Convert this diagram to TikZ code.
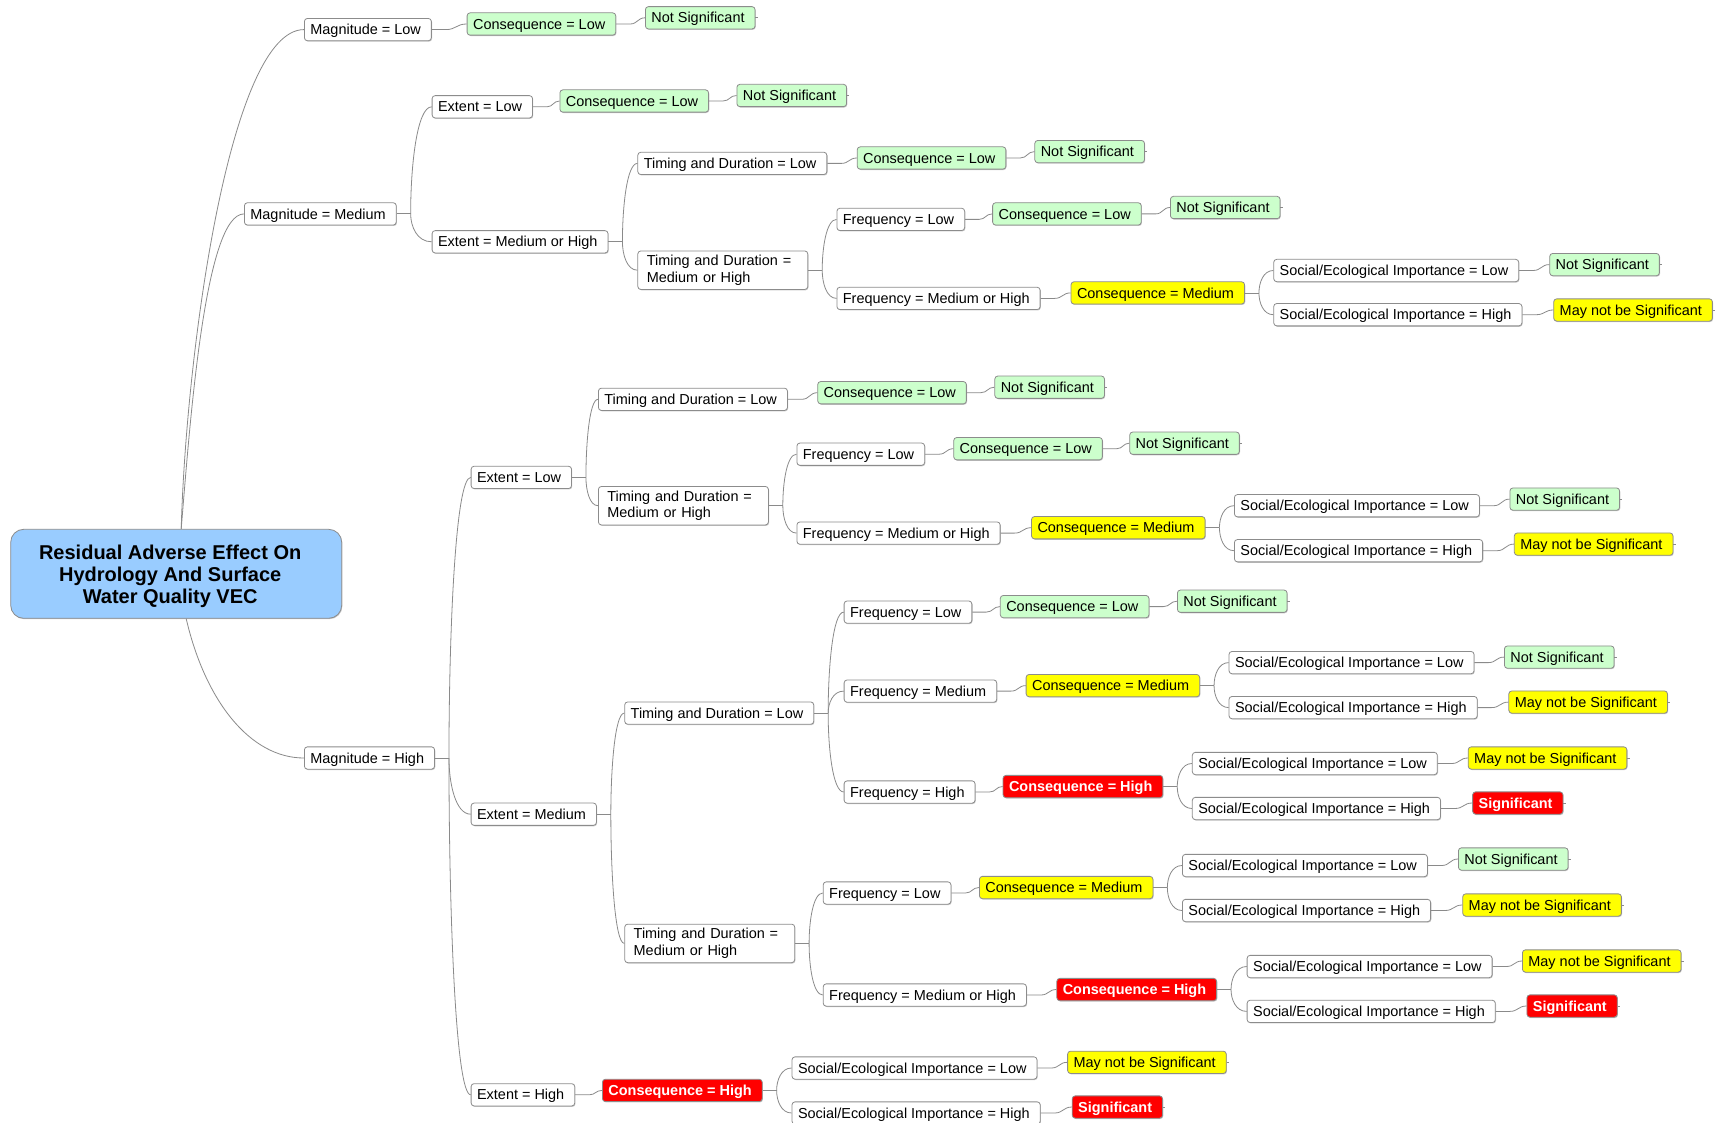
\documentclass[tikz,border=0pt]{standalone}
\usepackage{fontspec}
\setmainfont{Liberation Sans}
\usetikzlibrary{calc,shadows}

\definecolor{boxline}{HTML}{8C8C8C}
\definecolor{connline}{HTML}{8A8A8A}
\definecolor{lowfill}{HTML}{CCFFCC}
\definecolor{medfill}{HTML}{FFFF00}
\definecolor{highfill}{HTML}{FF0000}
\definecolor{rootfill}{HTML}{99CCFF}

% one connector with its stub: parent -> single child (small S-curve)
\newcommand\onekid[2]{\draw[conn] (#1.east) -- ++(14,0) to[twig] (#2.west);}
% parent -> several children, all forking from the end of one stub
\newcommand\kids[2]{%
  \draw[conn] (#1.east) -- ++(14,0) coordinate (#1-j);
  \foreach \k in {#2} {\draw[conn] (#1-j) to[fork] (\k.west);}}

\tikzset{
  base/.style={draw=boxline, line width=0.8pt, rounded corners=3pt, anchor=west,
    font=\fontsize{14.45}{16.5}\selectfont,
    drop shadow={shadow xshift=0.7pt, shadow yshift=-0.9pt, fill=black, opacity=0.22}},
  one/.style={base, inner xsep=6pt, inner ysep=3pt, text height=13.3pt, text depth=3pt,
    execute at end node={\hspace*{4.5pt}}},
  plain/.style={one, fill=white},
  low/.style={one, fill=lowfill},
  med/.style={one, fill=medfill},
  high/.style={one, fill=highfill, text=white, font=\fontsize{14.45}{16.5}\selectfont\bfseries},
  two/.style={base, fill=white, align=left, text width=152pt, inner xsep=9pt, minimum height=38.5pt},
  rootbox/.style={draw=boxline, line width=0.8pt, fill=rootfill, rounded corners=13pt,
    minimum width=331pt, minimum height=89pt, inner sep=0pt,
    font=\fontsize{20}{22.3}\selectfont\bfseries,
    drop shadow={shadow xshift=0.7pt, shadow yshift=-0.9pt, fill=black, opacity=0.22}},
  conn/.style={draw=connline, line width=0.8pt},
  twig/.style={to path={let \p1=(\tikztostart), \p2=(\tikztotarget) in
    .. controls ({0.5*(\x1+\x2)},\y1) and ({0.5*(\x1+\x2)},\y2) .. (\tikztotarget)}},
  fork/.style={to path={let \p1=(\tikztostart), \p2=(\tikztotarget) in
    .. controls (\x1,{\y1+0.45*(\y2-\y1)}) and ({\x1+0.3*(\x2-\x1)},\y2) .. (\tikztotarget)}},
}

\begin{document}
\begin{tikzpicture}[x=1pt, y=1pt]
\fill[white] (0,0) rectangle (1720,-1123);
\useasboundingbox (0,0) rectangle (1720,-1123);

% central topic
\node[rootbox] (root) at (176.2,-573.8)
  {\raisebox{-8.3pt}[0pt][0pt]{\begin{tabular}{@{}c@{}}Residual Adverse Effect On\\Hydrology And Surface\\Water Quality VEC\end{tabular}}\hspace*{12pt}};

% ---- Magnitude = Low
\node[plain] (mL) at (304,-29.6) {Magnitude = Low};
\node[low] (mLc) at (466.7,-24) {Consequence = Low};
\node[low] (mLr) at (645,-17.8) {Not Significant};

% ---- Magnitude = Medium
\node[plain] (mM) at (244,-213.9) {Magnitude = Medium};
\node[plain] (mMeL) at (431.7,-106.8) {Extent = Low};
\node[low] (mMeLc) at (559.5,-101) {Consequence = Low};
\node[low] (mMeLr) at (736.5,-95.5) {Not Significant};
\node[plain] (mMeH) at (431.7,-241.8) {Extent = Medium or High};
\node[plain] (a1) at (637.4,-163.4) {Timing and Duration = Low};
\node[low] (a1c) at (856.8,-158) {Consequence = Low};
\node[low] (a1r) at (1034.4,-151.6) {Not Significant};
\node[two] (a2) at (637.4,-270.2) {Timing and Duration =\\Medium or High};
\node[plain] (a2f1) at (836.5,-219.4) {Frequency = Low};
\node[low] (a2f1c) at (992.2,-213.9) {Consequence = Low};
\node[low] (a2f1r) at (1170,-207.5) {Not Significant};
\node[plain] (a2f2) at (836.5,-298.4) {Frequency = Medium or High};
\node[med] (a2f2c) at (1070.6,-292.9) {Consequence = Medium};
\node[plain] (a2s1) at (1273.3,-270.5) {Social/Ecological Importance = Low};
\node[low] (a2s1r) at (1549.3,-264.6) {Not Significant};
\node[plain] (a2s2) at (1273.3,-314.7) {Social/Ecological Importance = High};
\node[med] (a2s2r) at (1553.3,-310) {May not be Significant};

% ---- Magnitude = High
\node[plain] (mH) at (304,-758) {Magnitude = High};

% Extent = Low
\node[plain] (eL) at (470.7,-477.4) {Extent = Low};
\node[plain] (b1) at (598,-399.3) {Timing and Duration = Low};
\node[low] (b1c) at (817.3,-392.7) {Consequence = Low};
\node[low] (b1r) at (994.4,-387.2) {Not Significant};
\node[two] (b2) at (598,-505.7) {Timing and Duration =\\Medium or High};
\node[plain] (b2f1) at (796.5,-454.2) {Frequency = Low};
\node[low] (b2f1c) at (953.3,-448.7) {Consequence = Low};
\node[low] (b2f1r) at (1129.3,-443.2) {Not Significant};
\node[plain] (b2f2) at (796.5,-533.1) {Frequency = Medium or High};
\node[med] (b2f2c) at (1031.1,-527.7) {Consequence = Medium};
\node[plain] (b2s1) at (1234,-505.7) {Social/Ecological Importance = Low};
\node[low] (b2s1r) at (1509.5,-499.1) {Not Significant};
\node[plain] (b2s2) at (1234,-550.7) {Social/Ecological Importance = High};
\node[med] (b2s2r) at (1513.9,-544.1) {May not be Significant};

% Extent = Medium
\node[plain] (eM) at (470.7,-814.2) {Extent = Medium};
\node[plain] (c1) at (624.3,-713.1) {Timing and Duration = Low};
\node[plain] (c1f1) at (843.7,-612.1) {Frequency = Low};
\node[low] (c1f1c) at (999.9,-606.6) {Consequence = Low};
\node[low] (c1f1r) at (1177,-601.2) {Not Significant};
\node[plain] (c1f2) at (843.7,-691.1) {Frequency = Medium};
\node[med] (c1f2c) at (1025.7,-685.6) {Consequence = Medium};
\node[plain] (c1s1) at (1228.6,-662.6) {Social/Ecological Importance = Low};
\node[low] (c1s1r) at (1504,-657.1) {Not Significant};
\node[plain] (c1s2) at (1228.6,-707.6) {Social/Ecological Importance = High};
\node[med] (c1s2r) at (1508.4,-702.1) {May not be Significant};
\node[plain] (c1f3) at (843.7,-792) {Frequency = High};
\node[high] (c1f3c) at (1002.6,-786.5) {Consequence = High};
\node[plain] (c1h1) at (1191.9,-763.5) {Social/Ecological Importance = Low};
\node[med] (c1h1r) at (1467.8,-758) {May not be Significant};
\node[plain] (c1h2) at (1191.9,-808.5) {Social/Ecological Importance = High};
\node[high] (c1h2r) at (1472.2,-803) {Significant};
\node[two] (c2) at (624.3,-943.4) {Timing and Duration =\\Medium or High};
\node[plain] (c2f1) at (822.8,-893) {Frequency = Low};
\node[med] (c2f1c) at (979,-887.5) {Consequence = Medium};
\node[plain] (c2s1) at (1182,-865.5) {Social/Ecological Importance = Low};
\node[low] (c2s1r) at (1458,-859) {Not Significant};
\node[plain] (c2s2) at (1182,-910.5) {Social/Ecological Importance = High};
\node[med] (c2s2r) at (1462.3,-905) {May not be Significant};
\node[plain] (c2f2) at (822.8,-995) {Frequency = Medium or High};
\node[high] (c2f2c) at (1056.4,-989.5) {Consequence = High};
\node[plain] (c2h1) at (1246.7,-966.5) {Social/Ecological Importance = Low};
\node[med] (c2h1r) at (1522,-961) {May not be Significant};
\node[plain] (c2h2) at (1246.7,-1011.4) {Social/Ecological Importance = High};
\node[high] (c2h2r) at (1526.5,-1006) {Significant};

% Extent = High
\node[plain] (eH) at (470.7,-1094.8) {Extent = High};
\node[high] (eHc) at (602,-1090.4) {Consequence = High};
\node[plain] (eHs1) at (791.6,-1068) {Social/Ecological Importance = Low};
\node[med] (eHs1r) at (1067.2,-1062.3) {May not be Significant};
\node[plain] (eHs2) at (791.6,-1113) {Social/Ecological Importance = High};
\node[high] (eHs2r) at (1071.8,-1107) {Significant};

% ---- connectors from the central topic
\coordinate (rtop) at ([xshift=5pt]root.north);
\coordinate (rbot) at ([xshift=10pt]root.south);
\draw[conn] (rtop) .. controls +(5,179) and +(-74,0) .. (mL.west);
\draw[conn] (rtop) .. controls +(9,109) and +(-39,0) .. (mM.west);
\draw[conn] (rbot) .. controls +(19,-82) and +(-54,0) .. (mH.west);

% ---- branch connectors
\onekid{mL}{mLc} \onekid{mLc}{mLr}
\kids{mM}{mMeL,mMeH}
\onekid{mMeL}{mMeLc} \onekid{mMeLc}{mMeLr}
\kids{mMeH}{a1,a2}
\onekid{a1}{a1c} \onekid{a1c}{a1r}
\kids{a2}{a2f1,a2f2}
\onekid{a2f1}{a2f1c} \onekid{a2f1c}{a2f1r}
\onekid{a2f2}{a2f2c}
\kids{a2f2c}{a2s1,a2s2}
\onekid{a2s1}{a2s1r} \onekid{a2s2}{a2s2r}

\kids{mH}{eL,eM,eH}
\kids{eL}{b1,b2}
\onekid{b1}{b1c} \onekid{b1c}{b1r}
\kids{b2}{b2f1,b2f2}
\onekid{b2f1}{b2f1c} \onekid{b2f1c}{b2f1r}
\onekid{b2f2}{b2f2c}
\kids{b2f2c}{b2s1,b2s2}
\onekid{b2s1}{b2s1r} \onekid{b2s2}{b2s2r}

\kids{eM}{c1,c2}
\kids{c1}{c1f1,c1f2,c1f3}
\onekid{c1f1}{c1f1c} \onekid{c1f1c}{c1f1r}
\onekid{c1f2}{c1f2c}
\kids{c1f2c}{c1s1,c1s2}
\onekid{c1s1}{c1s1r} \onekid{c1s2}{c1s2r}
\onekid{c1f3}{c1f3c}
\kids{c1f3c}{c1h1,c1h2}
\onekid{c1h1}{c1h1r} \onekid{c1h2}{c1h2r}
\kids{c2}{c2f1,c2f2}
\onekid{c2f1}{c2f1c}
\kids{c2f1c}{c2s1,c2s2}
\onekid{c2s1}{c2s1r} \onekid{c2s2}{c2s2r}
\onekid{c2f2}{c2f2c}
\kids{c2f2c}{c2h1,c2h2}
\onekid{c2h1}{c2h1r} \onekid{c2h2}{c2h2r}

\onekid{eH}{eHc}
\kids{eHc}{eHs1,eHs2}
\onekid{eHs1}{eHs1r} \onekid{eHs2}{eHs2r}

% short end ticks on the outcome boxes
\foreach \n in {mLr,mMeLr,a1r,a2f1r,a2s1r,a2s2r,b1r,b2f1r,b2s1r,b2s2r,
  c1f1r,c1s1r,c1s2r,c1h1r,c1h2r,c2s1r,c2s2r,c2h1r,c2h2r,eHs1r,eHs2r}
  {\draw[conn] (\n.east) -- ++(2.5,0);}
\end{tikzpicture}
\end{document}
